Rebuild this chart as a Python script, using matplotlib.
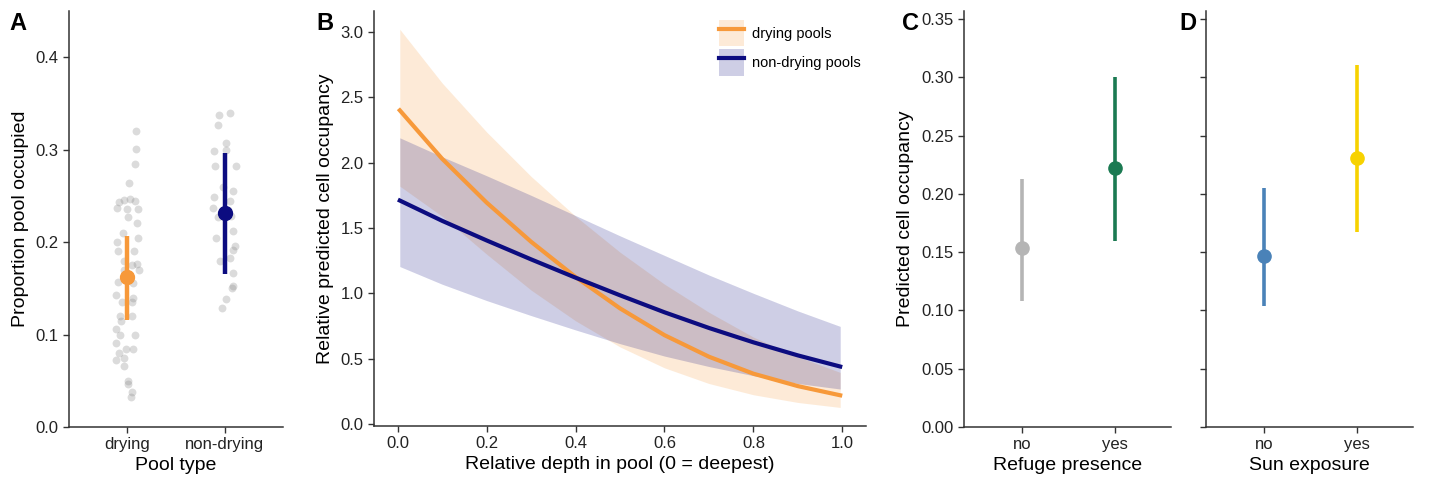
import matplotlib
matplotlib.use("Agg")
import matplotlib.pyplot as plt
from matplotlib.patches import Patch
from matplotlib.lines import Line2D

plt.rcParams['font.family'] = ['Liberation Sans', 'DejaVu Sans']

# --- panel A: proportion of each pool occupied ---
pool_types = ["drying", "non-drying"]
drying_vals = [0.320, 0.301, 0.285, 0.264, 0.243, 0.246, 0.247, 0.245, 0.236, 0.237,
               0.236, 0.227, 0.221, 0.210, 0.200, 0.204, 0.190, 0.190, 0.180, 0.176,
               0.170, 0.157, 0.156, 0.143, 0.135, 0.135, 0.140, 0.120, 0.120, 0.115,
               0.106, 0.100, 0.100, 0.091, 0.084, 0.084, 0.080, 0.072, 0.075, 0.066,
               0.050, 0.047, 0.038, 0.032, 0.170, 0.175, 0.165]
drying_jitter = [0.088, 0.092, 0.078, 0.014, -0.082, -0.031, 0.031, 0.082, 0.109, -0.102,
                 -0.003, 0.007, 0.099, -0.044, -0.102, 0.105, -0.092, 0.068, -0.037, 0.099,
                 0.119, -0.099, 0.058, -0.116, -0.058, 0.048, 0.058, -0.071, 0.048, -0.068,
                 -0.116, -0.075, 0.082, -0.116, -0.017, 0.054, -0.085, -0.112, -0.037, -0.031,
                 0.010, 0.010, 0.048, 0.041, -0.030, 0.048, 0.005]
nondrying_vals = [0.327, 0.337, 0.340, 0.307, 0.300, 0.299, 0.282, 0.282, 0.255, 0.249,
                  0.244, 0.237, 0.227, 0.228, 0.212, 0.204, 0.196, 0.192, 0.180, 0.183,
                  0.167, 0.153, 0.150, 0.138, 0.129, 0.235, 0.260]
nondrying_jitter = [-0.068, -0.061, 0.051, 0.017, 0.017, -0.109, -0.099, 0.112, 0.085, -0.109,
                    0.051, -0.119, -0.068, 0.068, 0.085, -0.085, 0.102, 0.085, -0.051, 0.051,
                    0.085, 0.085, 0.078, 0.017, -0.024, 0.030, -0.020]
pool_mean = [0.162, 0.231]
pool_lo = [0.116, 0.166]
pool_hi = [0.207, 0.296]
pool_colors = ["#f7993a", "#0c0c80"]

# --- panel B: relative predicted occupancy vs depth ---
depth = [0.005, 0.1, 0.2, 0.3, 0.4, 0.5, 0.6, 0.7, 0.8, 0.9, 0.995]
dry_fit = [2.40, 2.03, 1.695, 1.395, 1.125, 0.885, 0.68, 0.515, 0.385, 0.29, 0.22]
dry_lo = [1.82, 1.59, 1.30, 1.025, 0.79, 0.59, 0.43, 0.31, 0.224, 0.165, 0.127]
dry_hi = [3.02, 2.61, 2.235, 1.895, 1.59, 1.315, 1.07, 0.855, 0.665, 0.515, 0.395]
wet_fit = [1.71, 1.555, 1.405, 1.26, 1.12, 0.985, 0.855, 0.735, 0.625, 0.525, 0.44]
wet_lo = [1.205, 1.07, 0.945, 0.83, 0.72, 0.615, 0.52, 0.44, 0.37, 0.31, 0.268]
wet_hi = [2.19, 2.045, 1.90, 1.75, 1.595, 1.44, 1.29, 1.14, 1.00, 0.865, 0.747]

# --- panels C and D: predicted cell occupancy ---
levels = ["no", "yes"]
refuge_mean = [0.154, 0.222]
refuge_lo = [0.108, 0.160]
refuge_hi = [0.213, 0.300]
refuge_colors = ["#b5b5b5", "#1b7a52"]
sun_mean = [0.147, 0.231]
sun_lo = [0.104, 0.167]
sun_hi = [0.205, 0.311]
sun_colors = ["#4a82b8", "#f7d200"]

W, H = 1429, 479
fig = plt.figure(figsize=(W / 100, H / 100), dpi=100)


def box(l, t, r, b):
    return [l / W, 1 - b / H, (r - l) / W, (b - t) / H]


axA = fig.add_axes(box(69, 11, 283, 427))
axB = fig.add_axes(box(374, 11, 866, 426))
axC = fig.add_axes(box(964, 11, 1171, 427))
axD = fig.add_axes(box(1206, 11, 1413, 427))

for ax in (axA, axB, axC, axD):
    for s in ("top", "right"):
        ax.spines[s].set_visible(False)
    for s in ("left", "bottom"):
        ax.spines[s].set_color("#333333")
        ax.spines[s].set_linewidth(1.1)
    ax.tick_params(colors="#333333", labelsize=12, length=4, width=1.0,
                   labelcolor="#222222")

# A
axA.scatter([0 + j for j in drying_jitter], drying_vals, s=32, color="#8a8a8a",
            alpha=0.3, linewidths=0, zorder=1)
axA.scatter([1 + j for j in nondrying_jitter], nondrying_vals, s=32, color="#8a8a8a",
            alpha=0.3, linewidths=0, zorder=1)
for i in range(2):
    axA.plot([i, i], [pool_lo[i], pool_hi[i]], color=pool_colors[i], lw=3.2,
             solid_capstyle="butt", zorder=2)
    axA.plot(i, pool_mean[i], "o", color=pool_colors[i], ms=10, zorder=3)
axA.set_xlim(-0.6, 1.6)
axA.set_ylim(0, 0.45)
axA.set_xticks([0, 1])
axA.set_xticklabels(pool_types)
axA.set_yticks([0.0, 0.1, 0.2, 0.3, 0.4])
axA.set_yticklabels(["0.0", "0.1", "0.2", "0.3", "0.4"])
axA.set_xlabel("Pool type", fontsize=14, labelpad=3)
axA.set_ylabel("Proportion pool occupied", fontsize=14, labelpad=5)

# B
axB.fill_between(depth, dry_lo, dry_hi, color="#f7993a", alpha=0.2, linewidth=0)
axB.fill_between(depth, wet_lo, wet_hi, color="#0c0c80", alpha=0.2, linewidth=0)
axB.plot(depth, dry_fit, color="#f7993a", lw=3, solid_joinstyle="round")
axB.plot(depth, wet_fit, color="#0c0c80", lw=3, solid_joinstyle="round")
axB.set_xlim(-0.053, 1.053)
axB.set_ylim(-0.015, 3.16)
axB.set_xticks([0, 0.2, 0.4, 0.6, 0.8, 1.0])
axB.set_xticklabels(["0.0", "0.2", "0.4", "0.6", "0.8", "1.0"])
axB.set_yticks([0, 0.5, 1.0, 1.5, 2.0, 2.5, 3.0])
axB.set_yticklabels(["0.0", "0.5", "1.0", "1.5", "2.0", "2.5", "3.0"])
axB.set_xlabel("Relative depth in pool (0 = deepest)", fontsize=14, labelpad=3)
axB.set_ylabel("Relative predicted cell occupancy", fontsize=14, labelpad=5)
handles = [
    (Patch(facecolor="#f7993a", alpha=0.2, edgecolor="none"),
     Line2D([], [], color="#f7993a", lw=3)),
    (Patch(facecolor="#0c0c80", alpha=0.2, edgecolor="none"),
     Line2D([], [], color="#0c0c80", lw=3)),
]
axB.legend(handles, ["drying pools", "non-drying pools"], loc="upper right",
           bbox_to_anchor=(1.015, 1.01), frameon=False, fontsize=10.5,
           handlelength=1.75, handleheight=2.4, labelspacing=0.2, handletextpad=0.5)

# C and D
for ax, mean, lo, hi, cols in ((axC, refuge_mean, refuge_lo, refuge_hi, refuge_colors),
                               (axD, sun_mean, sun_lo, sun_hi, sun_colors)):
    for i in range(2):
        ax.plot([i, i], [lo[i], hi[i]], color=cols[i], lw=2.6, solid_capstyle="butt")
        ax.plot(i, mean[i], "o", color=cols[i], ms=9.5)
    ax.set_xlim(-0.63, 1.6)
    ax.set_ylim(0, 0.357)
    ax.set_xticks([0, 1])
    ax.set_xticklabels(levels)
    ax.set_yticks([0, 0.05, 0.1, 0.15, 0.2, 0.25, 0.3, 0.35])

axC.set_yticklabels(["0.00", "0.05", "0.10", "0.15", "0.20", "0.25", "0.30", "0.35"])
axD.set_yticklabels([])
axC.set_ylabel("Predicted cell occupancy", fontsize=14, labelpad=5)
axC.set_xlabel("Refuge presence", fontsize=14, labelpad=3)
axD.set_xlabel("Sun exposure", fontsize=14, labelpad=3)

# panel letters
for lab, x in (("A", 18), ("B", 325), ("C", 911), ("D", 1188)):
    fig.text(x / W, 1 - 23 / H, lab, fontsize=17, fontweight="bold",
             ha="center", va="center")

fig.savefig("out.png", dpi=100)
